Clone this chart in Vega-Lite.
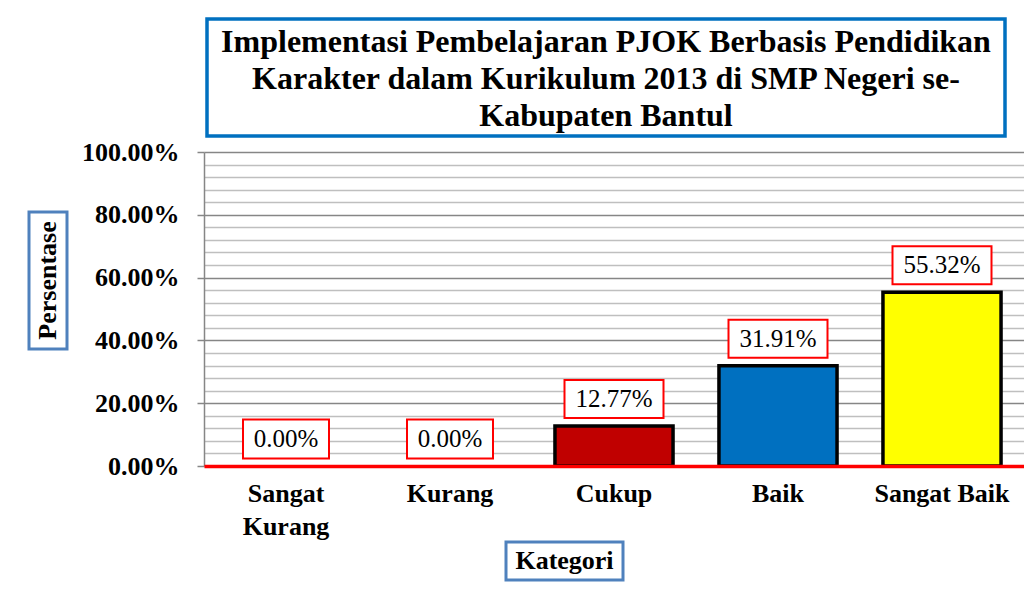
{
  "$schema": "https://vega.github.io/schema/vega-lite/v6.json",
  "background": "white",
  "padding": {"left": 27, "top": 17, "right": 0, "bottom": 0},
  "config": {"view": {"stroke": null}, "font": "Liberation Serif"},
  "spacing": 1,
  "vconcat": [
    {
      "spacing": 0,
      "hconcat": [
        {"width": 176, "height": 10, "data": {"values": [{}]}, "mark": {"type": "text", "text": ""}, "encoding": {}},
        {
          "width": 798, "height": 117,
          "view": {"stroke": "#0070C0", "strokeWidth": 3.5},
          "data": {"values": [{}]},
          "mark": {"type": "text", "font": "Liberation Serif", "fontSize": 32, "fontWeight": "bold", "lineHeight": 37, "align": "center", "baseline": "middle", "dy": -36, "color": "black"},
          "encoding": {"text": {"value": ["Implementasi Pembelajaran PJOK Berbasis Pendidikan", "Karakter dalam Kurikulum 2013 di SMP Negeri se-", "Kabupaten Bantul"]}}
        }
      ]
    },
    {
      "spacing": 12,
      "hconcat": [
        {
          "spacing": 0,
          "vconcat": [
            {"width": 38, "height": 58, "data": {"values": [{}]}, "mark": {"type": "text", "text": ""}, "encoding": {}},
            {
              "width": 38, "height": 137,
              "view": {"stroke": "#4F81BD", "strokeWidth": 3},
              "data": {"values": [{}]},
              "mark": {"type": "text", "text": "Persentase", "angle": 270, "font": "Liberation Serif", "fontSize": 26, "fontWeight": "bold", "align": "center", "baseline": "middle", "color": "black"},
              "encoding": {}
            }
          ]
        },
        {
          "width": 820, "height": 314,
          "data": {"values": [
            {"kategori": "Sangat Kurang", "persen": 0},
            {"kategori": "Kurang", "persen": 0},
            {"kategori": "Cukup", "persen": 0.1277},
            {"kategori": "Baik", "persen": 0.3191},
            {"kategori": "Sangat Baik", "persen": 0.5532}
          ]},
          "encoding": {
            "x": {
              "field": "kategori", "type": "nominal", "sort": null,
              "scale": {"paddingInner": 0.28, "paddingOuter": 0.14},
              "axis": {
                "title": null, "labelAngle": 0, "ticks": false, "grid": false,
                "domainColor": "#FF0000", "domainWidth": 3.5,
                "labelFont": "Liberation Serif", "labelFontSize": 26, "labelFontWeight": "bold", "labelColor": "black",
                "labelPadding": 14, "labelLineHeight": 33, "labelLimit": 0,
                "labelExpr": "datum.label == 'Sangat Kurang' ? ['Sangat', 'Kurang'] : datum.label",
                "zindex": 1
              }
            },
            "y": {
              "field": "persen", "type": "quantitative",
              "scale": {"domain": [0, 1], "nice": false},
              "axis": {
                "title": null,
                "values": [0, 0.04, 0.08, 0.12, 0.16, 0.2, 0.24, 0.28, 0.32, 0.36, 0.4, 0.44, 0.48, 0.52, 0.56, 0.6, 0.64, 0.68, 0.72, 0.76, 0.8, 0.84, 0.88, 0.92, 0.96, 1],
                "labelExpr": "round(datum.value*100) % 20 == 0 ? format(datum.value, '.2%') : ''",
                "labelOverlap": false,
                "labelFont": "Liberation Serif", "labelFontSize": 26, "labelFontWeight": "bold", "labelColor": "black",
                "labelPadding": 18,
                "tickSize": 7, "tickWidth": 1.5,
                "tickColor": {"condition": {"test": "round(datum.value*100) % 20 == 0", "value": "#868686"}, "value": "transparent"},
                "gridColor": {"condition": {"test": "round(datum.value*100) % 20 == 0", "value": "#868686"}, "value": "#BFBFBF"},
                "gridWidth": 1.5,
                "domainColor": "#868686", "domainWidth": 1.5,
                "zindex": 0
              }
            }
          },
          "layer": [
            {
              "mark": {"type": "bar", "stroke": "black", "strokeWidth": 3.5},
              "encoding": {
                "color": {
                  "field": "kategori", "type": "nominal",
                  "scale": {"domain": ["Sangat Kurang", "Kurang", "Cukup", "Baik", "Sangat Baik"], "range": ["#C00000", "#C00000", "#C00000", "#0070C0", "#FFFF00"]},
                  "legend": null
                },
                "strokeOpacity": {"condition": {"test": "datum.persen == 0", "value": 0}, "value": 1}
              }
            },
            {
              "mark": {"type": "point", "filled": true, "fill": "white", "stroke": "#FF0000", "strokeWidth": 2, "opacity": 1, "yOffset": -27},
              "encoding": {
                "shape": {"condition": {"test": "datum.persen < 0.1", "value": "M-1,-0.4535L1,-0.4535L1,0.4535L-1,0.4535Z"}, "value": "M-1,-0.384L1,-0.384L1,0.384L-1,0.384Z"},
                "size": {"condition": {"test": "datum.persen < 0.1", "value": 7396}, "value": 9801}
              }
            },
            {
              "mark": {"type": "text", "font": "Liberation Serif", "fontSize": 25, "color": "black", "baseline": "middle", "yOffset": -27},
              "encoding": {"text": {"field": "persen", "type": "quantitative", "format": ".2%"}}
            }
          ]
        }
      ]
    },
    {
      "spacing": 0,
      "hconcat": [
        {"width": 475, "height": 10, "data": {"values": [{}]}, "mark": {"type": "text", "text": ""}, "encoding": {}},
        {
          "width": 117, "height": 38,
          "view": {"stroke": "#4F81BD", "strokeWidth": 3},
          "data": {"values": [{}]},
          "mark": {"type": "text", "text": "Kategori", "font": "Liberation Serif", "fontSize": 26, "fontWeight": "bold", "align": "center", "baseline": "middle", "color": "black"},
          "encoding": {}
        }
      ]
    }
  ]
}
